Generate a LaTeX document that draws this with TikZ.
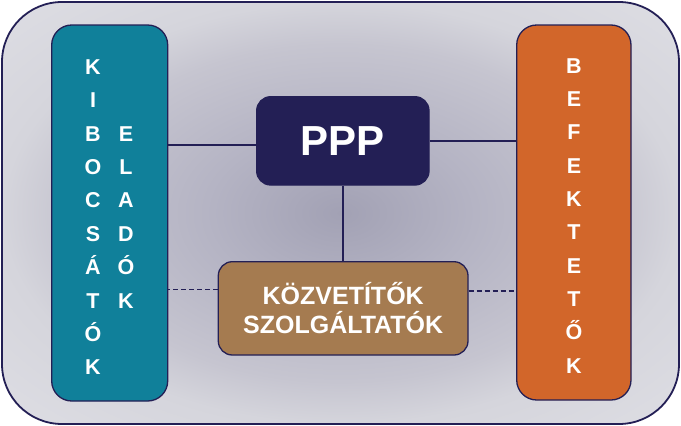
\documentclass[tikz,border=0pt]{standalone}
\usepackage{fontspec}
\setmainfont{Liberation Sans}
\definecolor{navyc}{HTML}{231F55}
\definecolor{tealc}{HTML}{10809A}
\definecolor{orangec}{HTML}{D2662A}
\definecolor{brownc}{HTML}{A57B50}
\definecolor{bg0}{HTML}{A2A1B4}
\definecolor{bg1}{HTML}{B5B4C4}
\definecolor{bg2}{HTML}{C6C5D0}
\definecolor{bg3}{HTML}{D5D5DC}
\definecolor{bg4}{HTML}{DEDEE4}
\pgfdeclareradialshading{bgshade}{\pgfpoint{0bp}{0bp}}{color(0bp)=(bg0); color(10bp)=(bg1); color(20bp)=(bg2); color(25bp)=(bg3); color(36bp)=(bg4); color(50bp)=(bg4)}
\begin{document}
\begin{tikzpicture}[x=1pt,y=-1pt,
  box/.style={draw=navyc, line width=1.3pt, rounded corners=#1, inner sep=0pt},
  col/.style={text=white, font=\bfseries\fontsize{21.5}{33.4}\selectfont, align=center, inner sep=0pt},
  midtext/.style={text=white, font=\bfseries\fontsize{25}{25}\selectfont, anchor=base, inner sep=0pt},
  conn/.style={draw=navyc, line width=1.4pt},
  dconn/.style={draw=navyc, line width=1.4pt, dash pattern=on 5pt off 3pt}]
\useasboundingbox (0,0) rectangle (681,426);
\shade[shading=bgshade, rounded corners=60pt] (2,2) rectangle (679,424);
\draw[navyc, line width=1.8pt, rounded corners=60pt] (2,2) rectangle (679,424);
\node[box=20pt, fill=tealc, minimum width=116pt, minimum height=376pt] (left) at (109.7,213) {};
\node[box=20pt, fill=orangec, minimum width=114.3pt, minimum height=375pt] (right) at (573.85,212.5) {};
\node[box=14pt, fill=navyc, minimum width=172.3pt, minimum height=88.3pt, text=white, font=\bfseries\fontsize{42}{42}\selectfont] (ppp) at (342.85,140.85) {PPP};
\node[box=14pt, fill=brownc, minimum width=249.7pt, minimum height=93.3pt] (mid) at (343.15,308.35) {};
\node[midtext] (mid1) at (343.2,304) {KÖZVETÍTŐK};
\node[midtext] (mid2) at (343.2,333.3) {SZOLGÁLTATÓK};
\node[col] (kib) at (93,217.2) {K\\I\\B\\O\\C\\S\\Á\\T\\Ó\\K};
\node[col] (ela) at (126,217.2) {E\\L\\A\\D\\Ó\\K};
\node[col, font=\bfseries\fontsize{21.5}{33.33}\selectfont] (bef) at (574,215.7) {B\\E\\F\\E\\K\\T\\E\\T\\Ő\\K};
\draw[conn] ([yshift=-4.2pt]ppp.west) -- ([yshift=-4.2pt]ppp.west -| left.east);
\draw[conn] (ppp.east) -- (ppp.east -| right.west);
\draw[conn] (ppp.south) -- (ppp.south |- mid.north);
\draw[dconn] ([yshift=19pt]mid.west) -- ([yshift=19pt]mid.west -| left.east);
\draw[dconn] ([yshift=17.3pt]mid.east) -- ([yshift=17.3pt]mid.east -| right.west);
\end{tikzpicture}
\end{document}
